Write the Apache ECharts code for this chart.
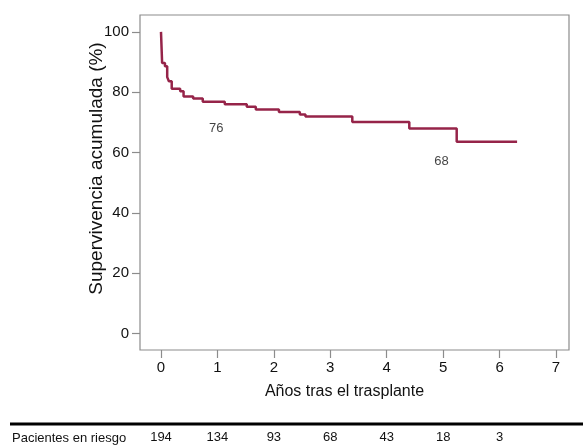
<!DOCTYPE html>
<html>
<head>
<meta charset="utf-8">
<script src="https://cdn.jsdelivr.net/npm/echarts@6/dist/echarts.min.js"></script>
<style>html,body{margin:0;padding:0;background:#fff;}#c{width:583px;height:448px;}</style>
</head>
<body>
<div id="c"></div>
<script>
// Kaplan-Meier survival curve (time in years, survival %)
var times    = [0, 0.02, 0.07, 0.11, 0.14, 0.19, 0.34, 0.40, 0.57, 0.74, 1.13, 1.52, 1.68, 2.09, 2.46, 2.56, 3.39, 4.40, 5.24, 6.31];
var survival = [100, 89.7, 88.6, 85.0, 83.6, 81.1, 80.3, 78.6, 77.9, 76.8, 76.0, 75.2, 74.3, 73.4, 72.6, 71.9, 70.1, 68.0, 63.6, 63.6];
// annotations
var noteX = [0.98, 4.97];
var noteY = [68.1, 56.9];
var noteText = ['76', '68'];
// ticks
var xTicks = [0, 1, 2, 3, 4, 5, 6, 7];
var yTicks = [0, 20, 40, 60, 80, 100];
// patients at risk
var riskYears = [0, 1, 2, 3, 4, 5, 6];
var riskCounts = [194, 134, 93, 68, 43, 18, 3];

var curve = times.map(function (t, i) { return [t, survival[i]]; });
var notes = noteX.map(function (x, i) { return { value: [x, noteY[i]], label: { formatter: noteText[i] } }; });

var FONT = 'Liberation Sans, Arial, sans-serif';
var chart = echarts.init(document.getElementById('c'));
chart.setOption({
  animation: false,
  backgroundColor: '#fff',
  grid: { left: 140, top: 15, width: 429, height: 335, show: true, borderColor: '#8c8c8c', borderWidth: 1.2, backgroundColor: 'transparent' },
  xAxis: [{
    type: 'value', min: -0.372, max: 7.23,
    splitLine: { show: false },
    axisLine: { show: false, onZero: false },
    axisTick: { show: true, length: 8, customValues: xTicks, lineStyle: { color: '#8c8c8c', width: 1.2 } },
    axisLabel: { customValues: xTicks, margin: 10, fontSize: 15, color: '#111', fontFamily: FONT },
    name: 'Años tras el trasplante', nameLocation: 'middle', nameGap: 34, nameMoveOverlap: false,
    nameTextStyle: { fontSize: 16, color: '#111', fontFamily: FONT, padding: [0, 20, 0, 0] }
  }, {
    type: 'value', min: -0.372, max: 7.23, position: 'bottom', offset: 73,
    splitLine: { show: false },
    axisLine: { show: false, onZero: false },
    axisTick: { show: false },
    axisLabel: { customValues: riskYears, margin: 8, fontSize: 13, color: '#111', fontFamily: FONT,
      formatter: function (v) { var i = riskYears.indexOf(Math.round(v)); return i >= 0 ? String(riskCounts[i]) : ''; } }
  }],
  yAxis: {
    type: 'value', min: -5.5, max: 105.6,
    splitLine: { show: false },
    axisLine: { show: false, onZero: false },
    axisTick: { show: true, length: 8, customValues: yTicks, lineStyle: { color: '#8c8c8c', width: 1.2 } },
    axisLabel: { customValues: yTicks, margin: 11, fontSize: 15, color: '#111', fontFamily: FONT },
    name: 'Supervivencia acumulada (%)', nameLocation: 'middle', nameGap: 34, nameRotate: 90, nameMoveOverlap: false,
    nameTextStyle: { fontSize: 19, color: '#111', fontFamily: FONT, padding: [0, 0, 0, 28] }
  },
  series: [{
    type: 'line', data: curve, step: 'end', showSymbol: false, symbol: 'none',
    lineStyle: { color: '#962449', width: 2.5 }
  }, {
    type: 'scatter', data: notes, symbolSize: 0,
    label: { show: true, position: 'inside', fontSize: 13, color: '#111', fontFamily: FONT }
  }],
  graphic: [{
    type: 'line', shape: { x1: 10, y1: 424, x2: 583, y2: 424 },
    style: { stroke: '#000', lineWidth: 3 }
  }, {
    type: 'text', left: 12, top: 432,
    style: { text: 'Pacientes en riesgo', fontSize: 13, fill: '#111', fontFamily: FONT }
  }]
});
</script>
</body>
</html>
